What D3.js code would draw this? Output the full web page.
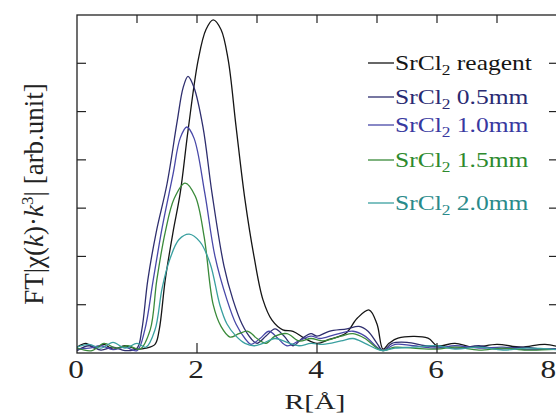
<!DOCTYPE html>
<html><head><meta charset="utf-8">
<script src="https://cdn.jsdelivr.net/npm/d3@7"></script>
<style>body{margin:0;background:#fff}svg{display:block}</style>
</head><body>
<svg id="c" width="556" height="416"></svg>
<script>
const seriesNames = ["reagent", "0.5mm", "1.0mm", "1.5mm", "2.0mm"];
const reagent = [[0,0.12],[0.15,0.2],[0.3,0.1],[0.45,0.18],[0.6,0.08],[0.8,0.15],[1.0,0.08],[1.15,0.1],[1.3,0.18],[1.37,0.48],[1.47,1.51],[1.6,2.5],[1.72,3.31],[1.85,4.6],[2.02,6.07],[2.15,6.7],[2.27,6.9],[2.4,6.7],[2.52,6.07],[2.65,4.7],[2.8,3.17],[2.95,2.0],[3.1,1.1],[3.25,0.68],[3.43,0.48],[3.6,0.45],[3.8,0.3],[4.0,0.2],[4.2,0.28],[4.48,0.41],[4.67,0.72],[4.87,0.89],[5.0,0.6],[5.1,0.08],[5.2,0.2],[5.35,0.31],[5.85,0.31],[6.0,0.15],[6.3,0.2],[6.6,0.12],[7.0,0.18],[7.4,0.12],[7.8,0.18],[8.1,0.1]];
const mm05 = [[0,0.05],[0.2,0.15],[0.4,0.06],[0.6,0.12],[0.8,0.05],[1.0,0.1],[1.08,0.48],[1.18,1.51],[1.32,2.5],[1.5,3.5],[1.67,4.8],[1.77,5.5],[1.85,5.73],[1.95,5.5],[2.1,4.68],[2.25,3.31],[2.45,1.8],[2.6,1.1],[2.75,0.6],[2.9,0.3],[3.0,0.2],[3.15,0.35],[3.3,0.5],[3.45,0.35],[3.6,0.15],[3.75,0.3],[3.9,0.4],[4.0,0.35],[4.2,0.45],[4.5,0.5],[4.7,0.55],[4.85,0.45],[5.0,0.2],[5.1,0.05],[5.25,0.2],[5.5,0.22],[5.8,0.15],[6.1,0.12],[6.4,0.1],[6.7,0.15],[7.0,0.08],[7.4,0.12],[7.8,0.08],[8.1,0.1]];
const mm10 = [[0,0.08],[0.2,0.1],[0.4,0.15],[0.6,0.07],[0.8,0.12],[1.0,0.05],[1.13,0.48],[1.27,1.51],[1.42,2.6],[1.6,3.7],[1.72,4.45],[1.83,4.68],[1.95,4.45],[2.13,3.31],[2.3,2.0],[2.5,1.1],[2.65,0.6],[2.8,0.3],[2.9,0.18],[3.05,0.3],[3.2,0.45],[3.35,0.3],[3.5,0.15],[3.7,0.25],[3.9,0.35],[4.05,0.3],[4.3,0.38],[4.6,0.45],[4.8,0.35],[5.0,0.12],[5.1,0.05],[5.3,0.18],[5.6,0.15],[6.0,0.1],[6.3,0.15],[6.7,0.1],[7.1,0.12],[7.5,0.07],[8.1,0.1]];
const mm15 = [[0,0.1],[0.25,0.05],[0.45,0.2],[0.65,0.1],[0.85,0.15],[1.05,0.08],[1.22,0.48],[1.33,1.51],[1.47,2.5],[1.62,3.2],[1.8,3.52],[1.97,3.25],[2.12,2.4],[2.27,1.0],[2.4,0.55],[2.55,0.33],[2.7,0.4],[2.85,0.45],[3.0,0.3],[3.15,0.2],[3.3,0.35],[3.5,0.4],[3.7,0.25],[3.9,0.3],[4.1,0.25],[4.4,0.35],[4.6,0.4],[4.8,0.3],[5.0,0.1],[5.1,0.05],[5.3,0.12],[5.6,0.1],[6.0,0.08],[6.3,0.12],[6.7,0.06],[7.1,0.1],[7.5,0.06],[8.1,0.08]];
const mm20 = [[0,0.12],[0.2,0.18],[0.4,0.1],[0.6,0.22],[0.8,0.1],[1.0,0.2],[1.15,0.12],[1.3,0.48],[1.42,1.35],[1.55,1.95],[1.7,2.35],[1.87,2.46],[2.05,2.3],[2.22,1.85],[2.38,1.0],[2.5,0.6],[2.65,0.35],[2.8,0.2],[2.95,0.15],[3.1,0.2],[3.3,0.3],[3.5,0.22],[3.7,0.15],[3.9,0.2],[4.1,0.18],[4.4,0.25],[4.6,0.3],[4.8,0.2],[5.0,0.08],[5.1,0.05],[5.3,0.1],[5.6,0.12],[6.0,0.15],[6.3,0.08],[6.7,0.12],[7.1,0.06],[7.5,0.1],[8.1,0.06]];
const xTickLabels = [0, 2, 4, 6, 8];

const seriesData = [reagent, mm05, mm10, mm15, mm20];
const lineColors = ["#151515", "#2e2e6e", "#4848a8", "#3a8a3a", "#3aa0a0"];
const textColors = ["#151515", "#2a2a72", "#3838a0", "#2e8a2e", "#2a8a8a"];
const legendBaselines = [70, 104, 132, 167, 210];

const FONT = "Liberation Serif";
const svg = d3.select("#c");
const x = d3.scaleLinear([0, 8], [77, 557]);
const y = d3.scaleLinear([0, 7], [353, 15]);

const g = svg.append("g");
const line = d3.line().x(d => x(d[0])).y(d => y(d[1])).curve(d3.curveCatmullRom.alpha(0.5));
svg.append("clipPath").attr("id","cp").append("rect").attr("x",77).attr("y",15).attr("width",480).attr("height",338);
seriesData.forEach((s, i) => {
  g.append("path").attr("d", line(s)).attr("fill","none").attr("stroke", lineColors[i])
   .attr("stroke-width", 1.3).attr("clip-path","url(#cp)");
});

const ax = svg.append("g").attr("stroke","#222").attr("fill","none");
ax.append("rect").attr("x",77).attr("y",15).attr("width",480).attr("height",338).attr("stroke-width",1.3);
d3.range(1, 8).forEach(v => {
  ax.append("line").attr("x1", x(v)).attr("x2", x(v)).attr("y1", y(7)).attr("y2", y(7)+8).attr("stroke-width",1.2);
});
[2,4,6].forEach(v => {
  ax.append("line").attr("x1", x(v)).attr("x2", x(v)).attr("y1", y(0)).attr("y2", y(0)-10).attr("stroke-width",1.2);
});
d3.range(1, 7).forEach(v => {
  ax.append("line").attr("x1", x(0)).attr("x2", x(0)+9).attr("y1", y(v)).attr("y2", y(v)).attr("stroke-width",1.2);
  ax.append("line").attr("x1", x(8)).attr("x2", x(8)-8).attr("y1", y(v)).attr("y2", y(v)).attr("stroke-width",1.2);
});

function txt(px, py, str, size, color, anchor, sx) {
  return svg.append("text").attr("transform", `translate(${px},${py}) scale(${sx||1},1)`)
    .attr("font-family", FONT).attr("font-size", size).attr("fill", color)
    .attr("text-anchor", anchor || "start").text(str);
}
xTickLabels.forEach(v => {
  if (v === 8) txt(556, 378, String(v), 25, "#222", "end", 1.25);
  else txt(x(v) - 1, 378, String(v), 25, "#222", "middle", 1.25);
});
txt(315, 409, "R[Å]", 22, "#222", "middle", 1.35);

const yl = svg.append("text").attr("transform","translate(43,194) rotate(-90)")
  .attr("font-family", FONT).attr("font-size", 27).attr("fill","#222").attr("text-anchor","middle");
yl.append("tspan").text("FT|");
yl.append("tspan").text("χ(");
yl.append("tspan").attr("font-style","italic").text("k");
yl.append("tspan").text(")·");
yl.append("tspan").attr("font-style","italic").text("k");
yl.append("tspan").attr("font-size",17).attr("dy",-10).text("3");
yl.append("tspan").attr("dy",10).text("| [arb.unit]");

seriesNames.forEach((n, i) => {
  const by = legendBaselines[i];
  svg.append("line").attr("x1",368).attr("x2",394).attr("y1",by-7).attr("y2",by-7)
    .attr("stroke", lineColors[i]).attr("stroke-width",1.3);
  const t = svg.append("text").attr("transform", `translate(395,${by}) scale(1.16,1)`)
    .attr("font-family", FONT).attr("font-size", 22).attr("fill", textColors[i]);
  t.append("tspan").text("SrCl");
  t.append("tspan").attr("font-size",15).attr("dy",5).text("2");
  t.append("tspan").attr("dy",-5).text(" " + n);
});
</script>
</body></html>
